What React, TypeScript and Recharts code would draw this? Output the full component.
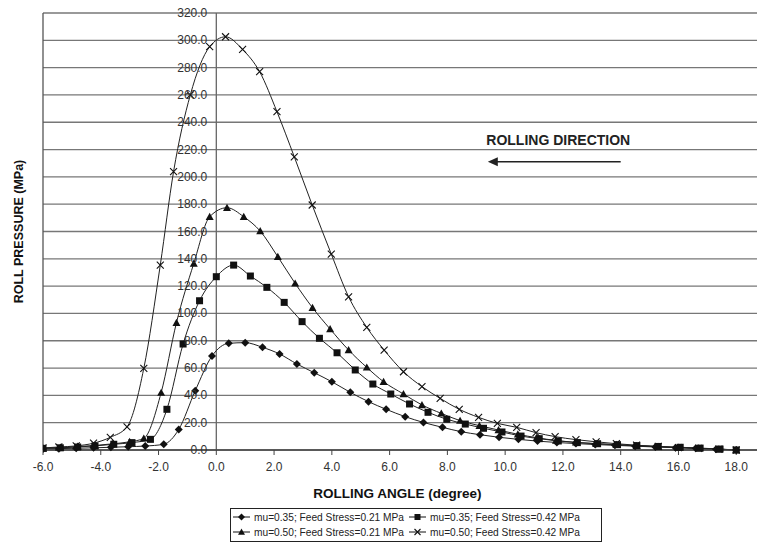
import React from "react";
import { LineChart, Line, XAxis, YAxis, CartesianGrid, ReferenceLine } from "recharts";

// rolling angle (degree) / roll pressure (MPa)
const diamondX = [-6.0, -5.45, -4.85, -4.25, -3.65, -3.05, -2.46, -1.82, -1.3, -0.73, -0.15, 0.43, 1.0, 1.6, 2.19, 2.79, 3.39, 4.0, 4.64, 5.27, 5.88, 6.54, 7.17, 7.83, 8.48, 9.13, 9.79, 10.46, 11.12, 11.79, 12.45, 13.12, 13.8, 14.5, 15.2, 15.9, 16.6, 17.3, 18.0];
const diamondY = [0.8, 1.0, 1.3, 1.6, 2.0, 2.4, 2.9, 4.2, 15.1, 43.4, 68.8, 78.1, 78.6, 75.2, 70.3, 63.0, 56.6, 50.0, 42.2, 35.4, 29.8, 24.4, 20.2, 16.6, 13.4, 11.2, 9.3, 7.8, 6.5, 5.5, 4.7, 4.0, 3.4, 2.8, 2.2, 1.7, 1.2, 0.6, 0.0];

const squareX = [-6.0, -5.4, -4.8, -4.2, -3.55, -2.92, -2.28, -1.71, -1.15, -0.58, 0.0, 0.6, 1.18, 1.75, 2.35, 2.97, 3.57, 4.18, 4.81, 5.42, 6.04, 6.69, 7.33, 7.98, 8.62, 9.25, 9.89, 10.55, 11.18, 11.84, 12.5, 13.2, 13.89, 14.56, 15.3, 16.06, 16.75, 17.44, 18.0];
const squareY = [1.2, 1.6, 2.2, 3.0, 4.2, 5.4, 7.8, 29.8, 77.6, 109.3, 126.9, 135.4, 127.4, 119.1, 108.1, 94.0, 81.8, 71.2, 58.6, 48.3, 41.0, 33.7, 27.6, 22.5, 19.0, 15.9, 13.2, 10.2, 8.3, 6.6, 5.4, 4.6, 3.9, 3.2, 2.6, 2.0, 1.4, 0.7, 0.0];

const triangleX = [-6.0, -5.4, -4.8, -4.2, -3.6, -3.0, -2.51, -1.91, -1.38, -0.78, -0.23, 0.37, 0.95, 1.52, 2.13, 2.73, 3.33, 3.94, 4.58, 5.21, 5.79, 6.48, 7.12, 7.79, 8.44, 9.11, 9.77, 10.44, 11.09, 11.76, 12.45, 13.15, 13.85, 14.55, 15.3, 16.0, 16.7, 17.4, 18.0];
const triangleY = [1.3, 1.8, 2.5, 3.3, 4.5, 6.0, 8.5, 42.0, 93.2, 136.6, 170.8, 177.4, 170.8, 160.3, 141.5, 122.0, 104.2, 88.6, 73.2, 60.5, 50.0, 41.0, 33.0, 26.8, 21.5, 17.8, 14.6, 11.5, 9.0, 7.0, 5.6, 4.6, 3.8, 3.0, 2.4, 1.8, 1.2, 0.6, 0.0];

const crossX = [-6.0, -5.45, -4.85, -4.25, -3.67, -3.09, -2.51, -1.94, -1.48, -0.9, -0.23, 0.32, 0.91, 1.5, 2.1, 2.7, 3.32, 3.98, 4.58, 5.21, 5.81, 6.48, 7.12, 7.75, 8.41, 9.08, 9.73, 10.4, 11.07, 11.73, 12.45, 13.15, 13.85, 14.55, 15.3, 16.0, 16.7, 17.4, 18.0];
const crossY = [1.5, 2.2, 3.0, 5.0, 9.3, 17.0, 59.8, 135.4, 203.8, 260.0, 295.3, 302.6, 293.3, 277.0, 247.7, 214.7, 179.4, 143.5, 112.2, 89.8, 73.2, 57.3, 46.4, 37.8, 29.8, 23.9, 19.5, 16.6, 12.7, 9.8, 7.6, 6.0, 4.6, 3.5, 2.6, 1.8, 1.2, 0.6, 0.0];

const xTicks = [-6, -4, -2, 0, 2, 4, 6, 8, 10, 12, 14, 16, 18];
const yTicks = [0, 20, 40, 60, 80, 100, 120, 140, 160, 180, 200, 220, 240, 260, 280, 300, 320];

const seriesNames = [
    "mu=0.35; Feed Stress=0.21 MPa",
    "mu=0.35; Feed Stress=0.42 MPa",
    "mu=0.50; Feed Stress=0.21 MPa",
    "mu=0.50; Feed Stress=0.42 MPa",
];

const zip = (xs: number[], ys: number[]) => xs.map((x, i) => ({ x, y: ys[i] }));

const X_MIN = -6;
const X_MAX = 20;
const CHART_W = 800;
const CHART_H = 543;
const MARGIN = { top: 13, right: 6, left: 0, bottom: 43 };
const Y_AXIS_W = 43;
const PLOT_W = CHART_W - MARGIN.left - MARGIN.right - Y_AXIS_W;
const ZERO_X = MARGIN.left + Y_AXIS_W + ((0 - X_MIN) / (X_MAX - X_MIN)) * PLOT_W;

const INK = "#111";
const FONT = "'Liberation Sans', Arial, sans-serif";

function Diamond({ cx, cy, s = 4 }: any) {
    return <path d={`M${cx},${cy - s}L${cx + s},${cy}L${cx},${cy + s}L${cx - s},${cy}Z`} fill={INK} />;
}
function Square({ cx, cy, s = 3.5 }: any) {
    return <rect x={cx - s} y={cy - s} width={s * 2} height={s * 2} fill={INK} />;
}
function Triangle({ cx, cy, s = 4 }: any) {
    return <path d={`M${cx},${cy - s}L${cx + s},${cy + s * 0.8}L${cx - s},${cy + s * 0.8}Z`} fill={INK} />;
}
function Cross({ cx, cy, s = 3.5 }: any) {
    return (
        <path d={`M${cx - s},${cy - s}L${cx + s},${cy + s}M${cx - s},${cy + s}L${cx + s},${cy - s}`}
            stroke={INK} strokeWidth={1.1} fill="none" />
    );
}

const markers = [Diamond, Square, Triangle, Cross];

const dotFor = (Shape: any) => (p: any) => {
    if (p.cx == null || p.cy == null) return <g key={p.index} />;
    return <g key={p.index}><Shape cx={p.cx} cy={p.cy} /></g>;
};

function YTick({ y, payload }: any) {
    return (
        <text x={ZERO_X - 9} y={y} textAnchor="end" dominantBaseline="central"
            fontSize={12} fill="#333" fontFamily={FONT}>
            {Number(payload.value).toFixed(1)}
        </text>
    );
}

function DirectionArrow({ x1, y1, x2, y2 }: any) {
    // segment drawn right-to-left; arrow head at the left end
    const tipX = Math.min(x1, x2);
    const tailX = Math.max(x1, x2);
    const y = y1;
    return (
        <g>
            <line x1={tailX} y1={y} x2={tipX + 6} y2={y2} stroke="#222" strokeWidth={1.5} />
            <path d={`M${tipX},${y}L${tipX + 10},${y - 4.5}L${tipX + 10},${y + 4.5}Z`} fill="#222" />
            <text x={(tipX + tailX) / 2 + 4} y={y - 22} textAnchor="middle" dominantBaseline="central"
                fontSize={14} fontWeight="bold" fill="#222" fontFamily={FONT}>
                ROLLING DIRECTION
            </text>
        </g>
    );
}

// legend drawn as a small svg box under the axis title
function LegendBox() {
    const rows = [[0, 1], [2, 3]];
    const colLine = [3, 179];
    const rowY = [9, 24];
    return (
        <svg width={372} height={34} style={{ position: "absolute", left: 230, top: 508 }}>
            <rect x={0.5} y={0.5} width={371} height={33} fill="#fff" stroke="#222" />
            {rows.map((row, r) => row.map((si, c) => {
                const Shape = markers[si];
                const lx = colLine[c];
                const cy = rowY[r];
                return (
                    <g key={si}>
                        <line x1={lx} y1={cy} x2={lx + 17} y2={cy} stroke={INK} strokeWidth={1} />
                        <Shape cx={lx + 8.5} cy={cy} s={si === 0 || si === 2 ? 3.5 : 3} />
                        <text x={lx + 21} y={cy} dominantBaseline="central" fontSize={10.5} fill="#222"
                            fontFamily={FONT} textLength={150} lengthAdjust="spacingAndGlyphs">
                            {seriesNames[si]}
                        </text>
                    </g>
                );
            }))}
        </svg>
    );
}

export default function App() {
    const series = [
        zip(diamondX, diamondY),
        zip(squareX, squareY),
        zip(triangleX, triangleY),
        zip(crossX, crossY),
    ];

    return (
        <div style={{
            position: "absolute", left: 0, top: 0, width: 757, height: 543,
            overflow: "hidden", background: "#fff", fontFamily: FONT,
        }}>
            <LineChart width={CHART_W} height={CHART_H} margin={MARGIN}>
                <CartesianGrid vertical={false} stroke="#777" strokeWidth={1.3} />
                <XAxis
                    type="number"
                    dataKey="x"
                    domain={[X_MIN, X_MAX]}
                    ticks={xTicks}
                    allowDataOverflow
                    height={50}
                    tickSize={5}
                    tickMargin={7}
                    tickFormatter={(v: number) => v.toFixed(1)}
                    tick={{ fontSize: 12, fill: "#333", fontFamily: FONT }}
                    axisLine={{ stroke: "#444", strokeWidth: 1.3 }}
                    tickLine={{ stroke: "#444" }}
                    label={{
                        value: "ROLLING ANGLE (degree)", position: "insideBottom", offset: 2, dx: -21,
                        style: { fontSize: 13.5, fontWeight: "bold", fill: "#111", fontFamily: FONT },
                    }}
                />
                <YAxis
                    type="number"
                    domain={[0, 320]}
                    ticks={yTicks}
                    width={Y_AXIS_W}
                    axisLine={false}
                    tickLine={false}
                    tick={<YTick />}
                    label={{
                        value: "ROLL PRESSURE (MPa)", angle: -90, position: "center", dx: -3,
                        style: { fontSize: 12.5, fontWeight: "bold", fill: "#111", fontFamily: FONT },
                    }}
                />
                <ReferenceLine x={X_MIN} stroke="#555" strokeWidth={1.3} />
                <ReferenceLine x={0} stroke="#666" strokeWidth={1.3} />
                <ReferenceLine
                    segment={[{ x: 14.0, y: 211 }, { x: 9.4, y: 211 }]}
                    shape={(p: any) => <DirectionArrow {...p} />}
                />
                {series.map((data, i) => (
                    <Line
                        key={seriesNames[i]}
                        data={data}
                        dataKey="y"
                        name={seriesNames[i]}
                        type="monotone"
                        stroke="#222"
                        strokeWidth={1}
                        dot={dotFor(markers[i])}
                        activeDot={false}
                        isAnimationActive={false}
                    />
                ))}
            </LineChart>
            <LegendBox />
        </div>
    );
}
